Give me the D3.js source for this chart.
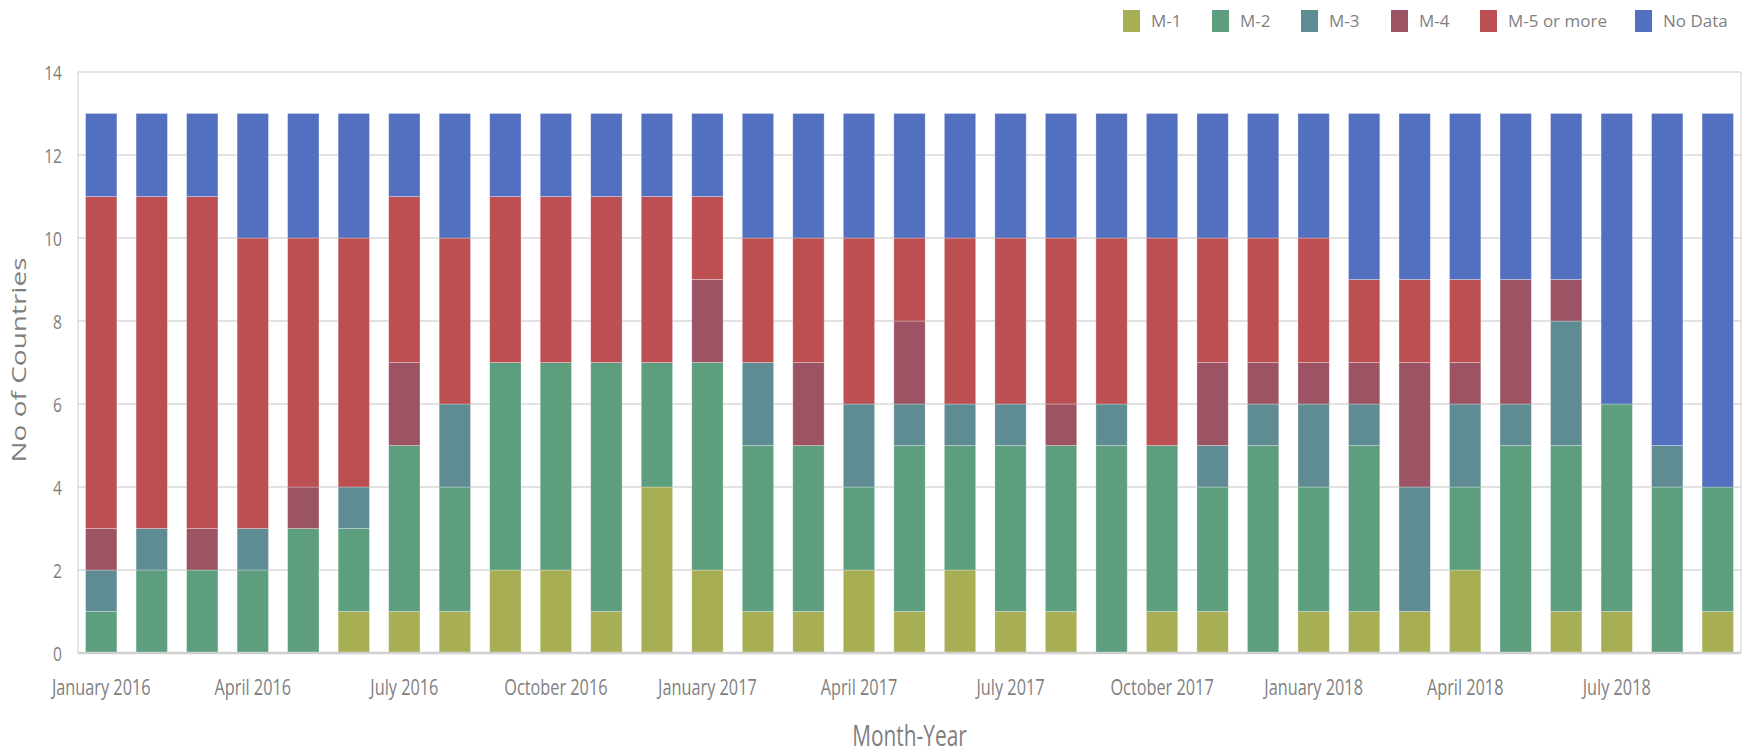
<!DOCTYPE html>
<html><head><meta charset="utf-8">
<script src="https://cdn.jsdelivr.net/npm/d3@7"></script>
<style>
body{margin:0;background:#fff}
text{font-family:"Open Sans",sans-serif;fill:#7f7f7f}
</style>
</head><body>
<svg id="c" width="1748" height="756"></svg>
<script>
const months = ["January 2016","February 2016","March 2016","April 2016","May 2016","June 2016","July 2016","August 2016","September 2016","October 2016","November 2016","December 2016",
"January 2017","February 2017","March 2017","April 2017","May 2017","June 2017","July 2017","August 2017","September 2017","October 2017","November 2017","December 2017",
"January 2018","February 2018","March 2018","April 2018","May 2018","June 2018","July 2018","August 2018","September 2018"];
const seriesNames = ["M-1","M-2","M-3","M-4","M-5 or more","No Data"];
const m1 = [0,0,0,0,0,1,1,1,2,2,1,4,2,1,1,2,1,2,1,1,0,1,1,0,1,1,1,2,0,1,1,0,1];
const m2 = [1,2,2,2,3,2,4,3,5,5,6,3,5,4,4,2,4,3,4,4,5,4,3,5,3,4,0,2,5,4,5,4,3];
const m3 = [1,1,0,1,0,1,0,2,0,0,0,0,0,2,0,2,1,1,1,0,1,0,1,1,2,1,3,2,1,3,0,1,0];
const m4 = [1,0,1,0,1,0,2,0,0,0,0,0,2,0,2,0,2,0,0,1,0,0,2,1,1,1,3,1,3,1,0,0,0];
const m5 = [8,8,8,7,6,6,4,4,4,4,4,4,2,3,3,4,2,4,4,4,4,5,3,3,3,2,2,2,0,0,0,0,0];
const noData = [2,2,2,3,3,3,2,3,2,2,2,2,2,3,3,3,3,3,3,3,3,3,3,3,3,4,4,4,4,4,7,8,9];
const yTicks = [0,2,4,6,8,10,12,14];
const xTickLabels = ["January 2016","April 2016","July 2016","October 2016","January 2017","April 2017","July 2017","October 2017","January 2018","April 2018","July 2018"];
const colors = ["#a8ae53","#5c9e7e","#5f8b93","#9c5464","#bb4f52","#536fbf"];

const seriesData = [m1,m2,m3,m4,m5,noData];
const rows = months.map((m,i)=>{const r={month:m}; seriesNames.forEach((s,j)=>r[s]=seriesData[j][i]); return r;});

const svg = d3.select("#c");
const L=78, R=1741, T=72, B=653;
const x = d3.scaleBand().domain(months).range([L,R]).paddingInner(0.38).paddingOuter(0.15);
const y = d3.scaleLinear().domain([0,14]).range([B,T]);

// gridlines
svg.append("g").selectAll("line").data(yTicks.filter(d=>d>0)).join("line")
  .attr("x1",L).attr("x2",R).attr("y1",d=>y(d)).attr("y2",d=>y(d))
  .attr("stroke","#d9d9d9").attr("stroke-width",1.3);
// frame
svg.append("line").attr("x1",L).attr("x2",L).attr("y1",y(14)).attr("y2",B).attr("stroke","#d9d9d9").attr("stroke-width",1.3);
svg.append("line").attr("x1",R).attr("x2",R).attr("y1",y(14)).attr("y2",B).attr("stroke","#d9d9d9").attr("stroke-width",1.3);

const stack = d3.stack().keys(seriesNames);
const stacked = stack(rows);
svg.append("g").selectAll("g").data(stacked).join("g")
  .attr("fill",(d,i)=>colors[i])
  .selectAll("rect").data(d=>d).join("rect")
  .attr("x",d=>x(d.data.month)).attr("width",x.bandwidth())
  .attr("y",d=>y(d[1])).attr("height",d=>y(d[0])-y(d[1]))
  .attr("stroke","rgba(255,255,255,0.35)").attr("stroke-width",0.8);

// bottom axis
const xAxis = svg.append("g").attr("transform",`translate(0,${B})`)
  .call(d3.axisBottom(x).tickValues(xTickLabels).tickSize(0).tickPadding(0));
xAxis.select(".domain").attr("stroke","#d0d0d0").attr("stroke-width",2.5).attr("d",`M${L},0H${R}`);
xAxis.selectAll("text").attr("y",0).attr("dy",0)
  .attr("transform","translate(0,42) scale(0.74,1)")
  .style("font-size","22px").style("fill","#7f7f7f").style("font-family","'Open Sans',sans-serif");

// left axis
const yAxis = svg.append("g").attr("transform",`translate(${L},0)`)
  .call(d3.axisLeft(y).tickValues(yTicks).tickSize(0).tickPadding(0));
yAxis.select(".domain").remove();
yAxis.selectAll("text").attr("x",0).attr("dy","0.36em")
  .attr("transform","translate(-16,0) scale(0.78,1)")
  .style("font-size","20px").style("fill","#7f7f7f").style("font-family","'Open Sans',sans-serif");

// axis titles
svg.append("text").attr("transform",`translate(${(L+R)/2},746) scale(0.72,1)`)
  .attr("text-anchor","middle").style("font-size","29px").text("Month-Year");
svg.append("text").attr("transform","translate(26,360) rotate(-90) scale(1,0.72)")
  .attr("text-anchor","middle").style("font-size","28px").text("No of Countries");

// legend
const legX = [1123,1212,1301,1391,1480,1635];
const leg = svg.append("g").selectAll("g").data(seriesNames).join("g")
  .attr("transform",(d,i)=>`translate(${legX[i]},0)`);
leg.append("rect").attr("x",0).attr("y",10).attr("width",17).attr("height",22).attr("fill",(d,i)=>colors[i]);
leg.append("text").attr("x",28).attr("y",27).style("font-size","17px").style("fill","#7f7f7f").text(d=>d);
</script>
</body></html>
